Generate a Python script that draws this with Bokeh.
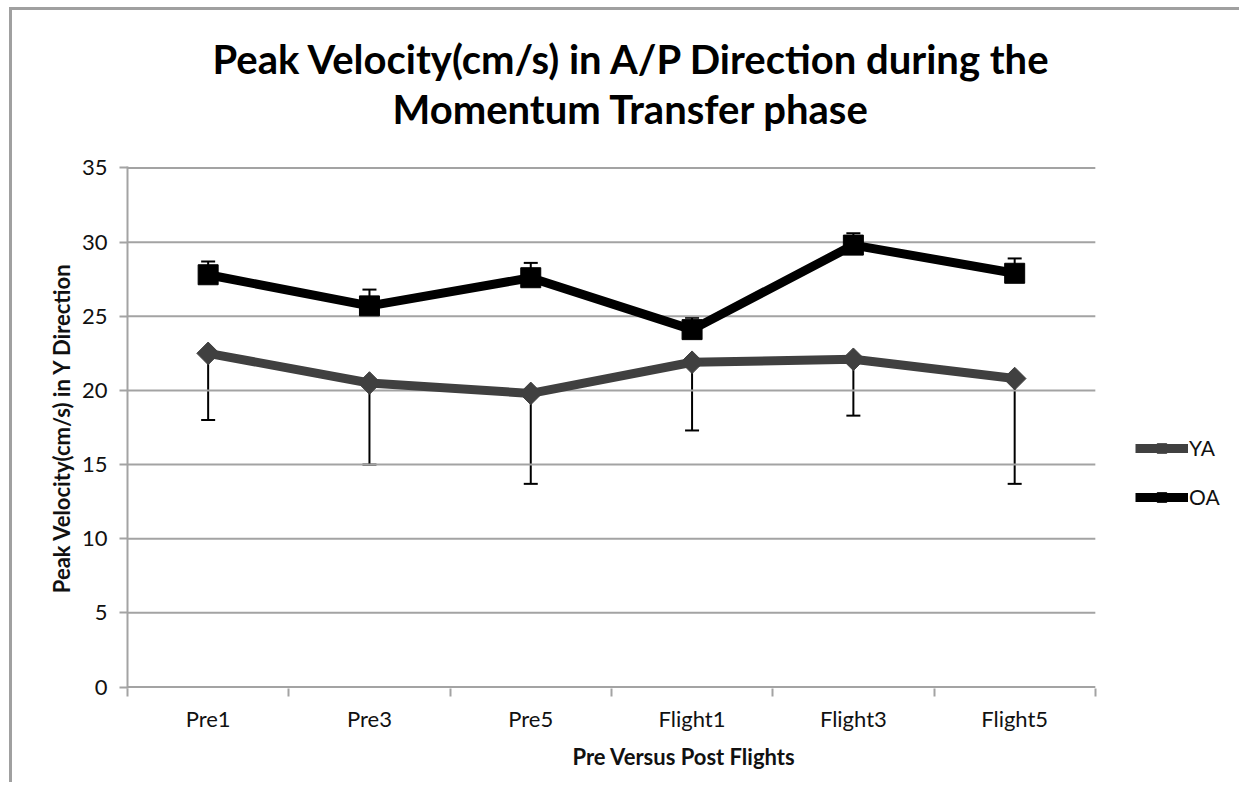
import math
from bokeh.plotting import figure
from bokeh.models import (ColumnDataSource, Whisker, TeeHead, FixedTicker, Legend,
                          LegendItem, Range1d, Title)
from bokeh.embed import file_html
from bokeh.resources import INLINE

# ---- data ----
categories = ["Pre1", "Pre3", "Pre5", "Flight1", "Flight3", "Flight5"]
ya_mean = [22.5, 20.5, 19.8, 21.9, 22.1, 20.8]
ya_err = [4.5, 5.5, 6.1, 4.6, 3.8, 7.1]
oa_mean = [27.8, 25.7, 27.6, 24.1, 29.8, 27.9]
oa_err = [0.9, 1.1, 1.0, 0.8, 0.8, 1.0]
y_ticks = [0, 5, 10, 15, 20, 25, 30, 35]
title_lines = ["Peak Velocity(cm/s) in A/P Direction during the", "Momentum Transfer phase"]
x_label = "Pre Versus Post Flights"
y_label = "Peak Velocity(cm/s) in Y Direction"
series_names = ["YA", "OA"]

FONT = "Lato"
GRID = "#a3a3a3"
TXT = "#111111"

n = len(categories)
xs = [i + 0.5 for i in range(n)]
bounds = list(range(n + 1))
LEGEND_ROOM = 0.9  # extra x room (in category widths) right of the axis for the legend

ya_src = ColumnDataSource(dict(x=xs, y=ya_mean,
                               lo=[m - e for m, e in zip(ya_mean, ya_err)]))
oa_src = ColumnDataSource(dict(x=xs, y=oa_mean,
                               hi=[m + e for m, e in zip(oa_mean, oa_err)]))
grid_src = ColumnDataSource(dict(x0=[0] * len(y_ticks), x1=[n] * len(y_ticks),
                                 y=y_ticks))

p = figure(width=1230, height=775, output_backend="svg", toolbar_location=None,
           x_range=Range1d(0, n + LEGEND_ROOM),
           y_range=Range1d(min(y_ticks) - 0.1, max(y_ticks) + 0.1),
           min_border_left=115, min_border_top=156, min_border_right=2,
           min_border_bottom=97)
p.styles = {"border-left": "3px solid #a0a0a0", "border-top": "3px solid #a0a0a0",
            "margin-left": "9px", "margin-top": "7px"}
p.outline_line_color = None
p.background_fill_color = "white"
p.border_fill_color = "white"

# titles: p.title is outermost; added Titles stack outward from the plot in order
def style_title(t, off, standoff, size="40px"):
    t.align = "left"
    t.offset = off
    t.standoff = standoff
    t.text_font = FONT
    t.text_font_size = size
    t.text_font_style = "bold"
    t.text_color = "#000000"

p.title.text = title_lines[0]
style_title(p.title, 85, 0)
spacer = Title(text=" ")
style_title(spacer, 0, 20, "10px")
p.add_layout(spacer, "above")
t2 = Title(text=title_lines[1])
style_title(t2, 265, 0)
p.add_layout(t2, "above")

# grid lines limited to the category span
p.xgrid.visible = False
p.ygrid.visible = False
p.segment(x0="x0", x1="x1", y0="y", y1="y", source=grid_src,
          line_color=GRID, line_width=2)

# y axis
ya = p.yaxis[0]
ya.ticker = FixedTicker(ticks=y_ticks)
ya.axis_line_color = GRID
ya.axis_line_width = 2
ya.major_tick_line_color = GRID
ya.major_tick_line_width = 2
ya.major_tick_out = 8
ya.major_tick_in = 0
ya.minor_tick_line_color = None
ya.major_label_text_font = FONT
ya.major_label_text_font_size = "22px"
ya.major_label_text_color = TXT
ya.major_label_standoff = 12
ya.axis_label = y_label
ya.axis_label_text_font = FONT
ya.axis_label_text_font_size = "22px"
ya.axis_label_text_font_style = "bold"
ya.axis_label_text_color = TXT
ya.axis_label_standoff = 4

# x axis (line drawn by the zero grid segment)
xa = p.xaxis[0]
xa.ticker = FixedTicker(ticks=xs, minor_ticks=bounds)
xa.major_label_overrides = {x: c for x, c in zip(xs, categories)}
xa.axis_line_color = None
xa.major_tick_line_color = None
xa.major_tick_out = 0
xa.major_tick_in = 0
xa.minor_tick_line_color = GRID
xa.minor_tick_line_width = 2
xa.minor_tick_out = 8
xa.minor_tick_in = 0
xa.major_label_text_font = FONT
xa.major_label_text_font_size = "22px"
xa.major_label_text_color = TXT
xa.major_label_standoff = 8
xa.axis_label = x_label
xa.axis_label_text_font = FONT
xa.axis_label_text_font_size = "22px"
xa.axis_label_text_font_style = "bold"
xa.axis_label_text_color = TXT
xa.axis_label_standoff = 8

# error bars
p.add_layout(Whisker(source=ya_src, base="x", lower="lo", upper="y", dimension="height",
                     upper_head=None,
                     lower_head=TeeHead(size=14, line_width=2, line_color="black"),
                     line_width=2, line_color="black"))
p.add_layout(Whisker(source=oa_src, base="x", lower="y", upper="hi", dimension="height",
                     lower_head=None,
                     upper_head=TeeHead(size=14, line_width=2, line_color="black"),
                     line_width=2, line_color="black"))

# series
YA_COL = "#404040"
ya_line = p.line("x", "y", source=ya_src, line_color=YA_COL, line_width=9, line_join="round")
ya_pts = p.scatter("x", "y", source=ya_src, marker="square", angle=math.pi / 4, size=16,
                   fill_color=YA_COL, line_color=YA_COL)
oa_line = p.line("x", "y", source=oa_src, line_color="black", line_width=9, line_join="round")
oa_pts = p.scatter("x", "y", source=oa_src, marker="square", size=20,
                   fill_color="black", line_color="black")

legend = Legend(items=[LegendItem(label=series_names[0], renderers=[ya_line, ya_pts]),
                       LegendItem(label=series_names[1], renderers=[oa_line, oa_pts])],
                location=(1008, 179), orientation="vertical",
                glyph_width=53, glyph_height=24, label_height=24, spacing=24,
                label_standoff=1, padding=0, margin=0,
                border_line_color=None, background_fill_alpha=0,
                label_text_font=FONT, label_text_font_size="21px",
                label_text_color=TXT)
p.add_layout(legend)

open("out.html", "w").write(file_html(p, INLINE))
